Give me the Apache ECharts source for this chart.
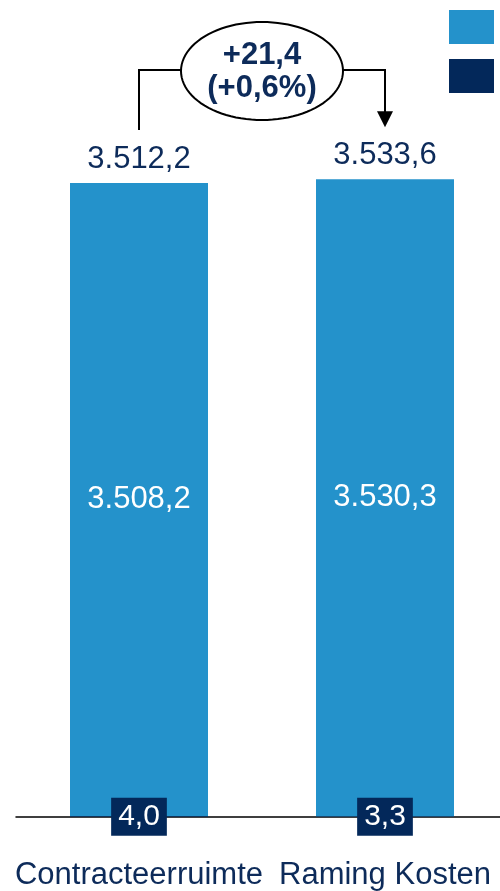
<!DOCTYPE html>
<html><head><meta charset="utf-8">
<script src="https://cdn.jsdelivr.net/npm/echarts@6/dist/echarts.min.js"></script>
<style>html,body{margin:0;padding:0;background:#fff;overflow:hidden;width:500px;height:891px}#c{width:508px;height:891px}</style>
</head><body><div id="c"></div>
<script>
const categories = ['Contracteerruimte', 'Raming Kosten'];
const seriesNames = ['Hoofdbedrag', 'Overig'];
const mainValues = [3508.2, 3530.3];
const smallValues = [4.0, 3.3];
const totals = [3512.2, 3533.6];
const deltaText = ['+21,4', '(+0,6%)'];

const LIGHT = '#2492CB', NAVY = '#03285A', TXT = '#0D2B5A';
const FONT = '"Liberation Sans", Arial, sans-serif';
function fmt(v) {
  const s = v.toFixed(1).split('.');
  const intPart = s[0].replace(/\B(?=(\d{3})+(?!\d))/g, '.');
  return intPart + ',' + s[1];
}

const chart = echarts.init(document.getElementById('c'), null, {renderer: 'canvas'});
chart.setOption({
  animation: false,
  textStyle: {fontFamily: FONT},
  grid: {left: 16, right: 0, top: 95, bottom: 74, containLabel: false},
  legend: {
    orient: 'vertical', left: 449, top: 10, padding: 0, itemWidth: 45, itemHeight: 34, itemGap: 15,
    icon: 'rect', data: [seriesNames[0], seriesNames[1]], formatter: () => '', selectedMode: false
  },
  xAxis: {
    type: 'category', data: categories,
    axisLine: {lineStyle: {color: '#000', width: 1.5}},
    axisTick: {show: false},
    axisLabel: {color: TXT, fontSize: 31, margin: 43, fontFamily: FONT, interval: 0}
  },
  yAxis: {type: 'value', min: 0, max: 4000, show: false, splitLine: {show: false}},
  series: [
    {
      name: seriesNames[1], type: 'bar', stack: 's', data: smallValues, barWidth: 138,
      itemStyle: {color: NAVY}, z: 3,
      label: {show: true, position: 'inside', color: '#fff', fontSize: 30, fontFamily: FONT,
        backgroundColor: NAVY, padding: [5, 7, 3, 7], formatter: p => fmt(p.value)}
    },
    {
      name: seriesNames[0], type: 'bar', stack: 's', data: mainValues, barWidth: 138,
      itemStyle: {color: LIGHT}, z: 2,
      label: {show: true, position: 'inside', color: '#fff', fontSize: 31, fontFamily: FONT,
        formatter: p => fmt(p.value)}
    },
    {
      name: 'totaal', type: 'bar', stack: 's', data: totals.map(() => 0), barWidth: 138,
      itemStyle: {color: 'transparent'},
      label: {show: true, position: 'top', distance: 8, color: TXT, fontSize: 31, fontFamily: FONT,
        formatter: p => fmt(totals[p.dataIndex])}
    }
  ]
});

// annotation built from axis pixel positions
const p0 = chart.convertToPixel({gridIndex: 0}, [0, totals[0]]);
const p1 = chart.convertToPixel({gridIndex: 0}, [1, totals[1]]);
const cx = (p0[0] + p1[0]) / 2, cy = 71, rx = 81, ry = 49;
const pts = [];
for (let i = 0; i < 96; i++) {
  const a = i / 96 * Math.PI * 2;
  pts.push([cx + rx * Math.cos(a), cy + ry * Math.sin(a)]);
}
const lineY = 70;
chart.setOption({
  graphic: [
    {type: 'polyline', shape: {points: [[p0[0], p0[1] - 53], [p0[0], lineY], [cx - rx, lineY]]},
      style: {stroke: '#000', lineWidth: 2, fill: null}},
    {type: 'polyline', shape: {points: [[cx + rx, lineY], [p1[0], lineY], [p1[0], p1[1] - 66]]},
      style: {stroke: '#000', lineWidth: 2, fill: null}},
    {type: 'polygon', shape: {points: [[p1[0] - 8, p1[1] - 68], [p1[0] + 8, p1[1] - 68], [p1[0], p1[1] - 52]]},
      style: {fill: '#000'}},
    {type: 'polygon', shape: {points: pts}, style: {fill: '#fff', stroke: '#000', lineWidth: 2}},
    {type: 'text', x: cx, y: cy - 16, style: {text: deltaText[0], fill: TXT, font: 'bold 31px ' + FONT,
      textAlign: 'center', textVerticalAlign: 'middle'}},
    {type: 'text', x: cx, y: cy + 17, style: {text: deltaText[1], fill: TXT, font: 'bold 31px ' + FONT,
      textAlign: 'center', textVerticalAlign: 'middle'}}
  ]
});
</script></body></html>
